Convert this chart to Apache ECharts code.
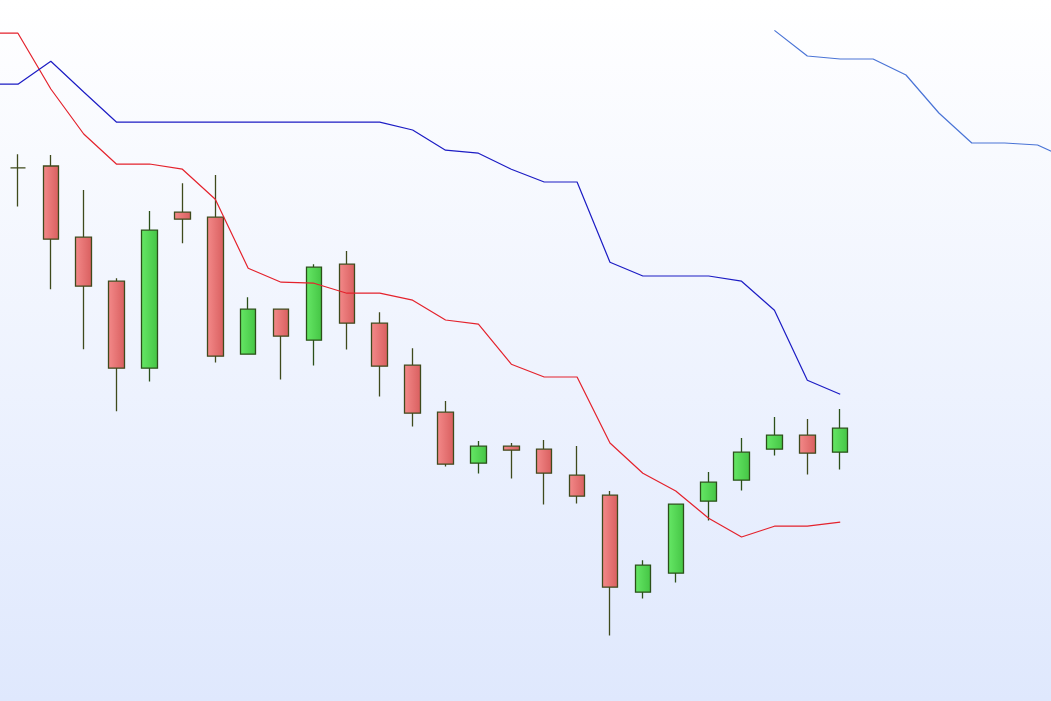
<!DOCTYPE html>
<html>
<head>
<meta charset="utf-8">
<title>K线</title>
<script src="https://cdn.jsdelivr.net/npm/echarts@6/dist/echarts.min.js"></script>
<style>
	html, body { margin: 0; padding: 0; }
	#main {
		width: 1051px;
		height: 701px;
		background: linear-gradient(to bottom, #ffffff 0%, #dfe8fd 100%);
	}
</style>
</head>
<body>
<div id="main"></div>
<script>
// 类目（第一个和最后一个在画面外）
var categories = [];
for (var i = 0; i < 34; i++) {
	categories.push('D' + i);
}

// K线数据（开盘、收盘、最低、最高），'-' 表示无数据
var candleOpen  = ['-', 131.66, 131.75, 128.19, 125.99, 121.64, 129.44, 129.19, 122.34, 124.59, 123.04, 126.84, 123.89, 121.79, 119.44, 116.89, 117.74, 117.59, 116.29, 115.29, 110.44, 111.39, 114.99, 116.04, 117.59, 118.29, 117.44];
var candleClose = ['-', 131.66, 128.09, 125.74, 121.64, 128.54, 129.09, 122.24, 124.59, 123.24, 126.69, 123.89, 121.74, 119.39, 116.84, 117.74, 117.54, 116.39, 115.24, 110.69, 111.79, 114.84, 115.94, 117.44, 118.29, 117.39, 118.64];
var candleLow   = ['-', 129.72, 125.59, 122.59, 119.49, 120.97, 127.89, 121.92, 122.34, 121.07, 121.77, 122.57, 120.22, 118.72, 116.72, 116.37, 116.12, 114.82, 114.87, 108.27, 110.12, 110.92, 114.02, 115.52, 117.27, 116.32, 116.57];
var candleHigh  = ['-', 132.34, 132.30, 130.55, 126.14, 129.50, 130.89, 131.30, 125.19, 124.59, 126.84, 127.50, 124.44, 122.64, 120.00, 118.00, 117.90, 118.05, 117.75, 115.50, 112.04, 114.84, 116.45, 118.15, 119.20, 119.10, 119.60];

// 红线（快线）
var redLine = [138.39, 138.39, 135.60, 133.35, 131.84, 131.85, 131.59, 130.09, 126.64, 125.94, 125.89, 125.39, 125.39, 125.04, 124.05, 123.84, 121.84, 121.20, 121.20, 117.90, 116.39, 115.50, 114.14, 113.20, 113.74, 113.74, 113.94];
// 蓝线（慢线）
var blueLine = [135.84, 135.84, 136.99, 135.45, 133.94, 133.94, 133.94, 133.94, 133.94, 133.94, 133.94, 133.94, 133.94, 133.55, 132.54, 132.39, 131.59, 130.95, 130.95, 126.94, 126.25, 126.25, 126.25, 125.99, 124.54, 121.04, 120.34];
// 前移的浅蓝线
var leadLine = ['-', '-', '-', '-', '-', '-', '-', '-', '-', '-', '-', '-', '-', '-', '-', '-', '-', '-', '-', '-', '-', '-', '-', '-', 138.53, 137.25, 137.10, 137.10, 136.30, 134.40, 132.90, 132.90, 132.80, 132.05];

var candleData = [];
for (var j = 0; j < candleOpen.length; j++) {
	candleData.push([candleOpen[j], candleClose[j], candleLow[j], candleHigh[j]]);
}

var myChart = echarts.init(document.getElementById('main'));

var option = {
	backgroundColor : 'transparent',
	animation : false,
	grid : {
		left : 1.5,
		right : -3,
		top : 0,
		bottom : 0,
		outerBoundsMode : 'none'
	},
	xAxis : {
		type : 'category',
		data : categories,
		show : false,
		boundaryGap : true
	},
	yAxis : {
		type : 'value',
		show : false,
		min : 105,
		max : 140.05,
		splitLine : { show : false }
	},
	// 只显示中间32根，两端的线段被裁掉
	dataZoom : [ {
		type : 'inside',
		xAxisIndex : 0,
		startValue : 1,
		endValue : 32,
		filterMode : 'none',
		zoomLock : true
	} ],
	series : [ {
		name : 'K',
		type : 'candlestick',
		barWidth : 16,
		data : candleData,
		itemStyle : {
			// 阳线：绿色
			color : new echarts.graphic.LinearGradient(0, 0, 1, 0, [ {
				offset : 0,
				color : '#66e866'
			}, {
				offset : 1,
				color : '#44c444'
			} ]),
			// 阴线：红色
			color0 : new echarts.graphic.LinearGradient(0, 0, 1, 0, [ {
				offset : 0,
				color : '#f48a8a'
			}, {
				offset : 1,
				color : '#d85e5e'
			} ]),
			borderColor : '#2b5019',
			borderColor0 : '#3f4a1c',
			borderWidth : 1.3
		}
	}, {
		name : '红线',
		type : 'line',
		data : redLine,
		symbol : 'none',
		smooth : false,
		lineStyle : { color : '#e4222c', width : 1.2 }
	}, {
		name : '蓝线',
		type : 'line',
		data : blueLine,
		symbol : 'none',
		smooth : false,
		lineStyle : { color : '#1c1cc4', width : 1.2 }
	}, {
		name : '浅蓝线',
		type : 'line',
		data : leadLine,
		symbol : 'none',
		smooth : false,
		lineStyle : { color : '#4a74d6', width : 1.2 }
	} ]
};

myChart.setOption(option);
</script>
</body>
</html>
